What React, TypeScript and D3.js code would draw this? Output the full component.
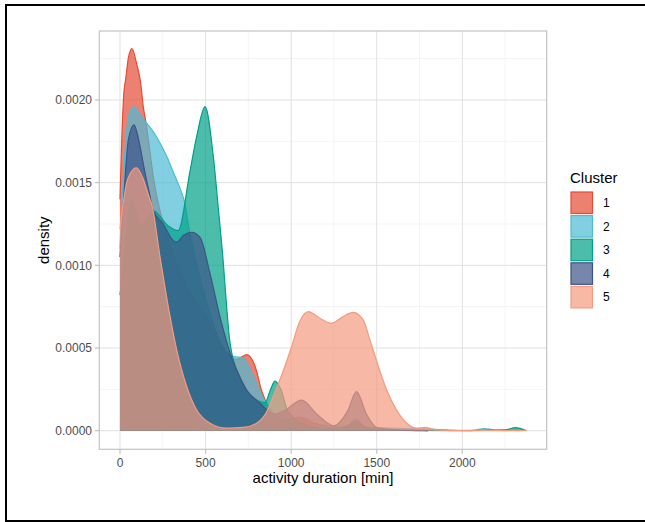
import * as d3 from "d3";

// density curves (x = minutes, y = density)
const cluster1X = [0, 10, 20, 35, 50, 70, 97, 121, 136, 152, 200, 300, 400, 500, 600, 680, 740, 789, 828, 880, 950, 1050, 1150, 1300, 1380, 1450, 1600, 1800];
const cluster1Y = [0.0014, 0.00175, 0.002, 0.00214, 0.00226, 0.00231, 0.00222, 0.0021, 0.00196, 0.00186, 0.0015, 0.0011, 0.00085, 0.0007, 0.0005, 0.00043, 0.00046, 0.00039, 0.00024, 0.00012, 0.00006, 0.00008, 0.00004, 0.00002, 0.00005, 0.00002, 0.00001, 0];

const cluster2X = [0, 15, 30, 50, 82, 110, 156, 200, 234, 273, 321, 360, 380, 400, 450, 500, 560, 620, 660, 720, 770, 835, 900, 1000, 1100, 1400, 1800, 2050, 2130, 2200];
const cluster2Y = [0.0011, 0.00145, 0.0017, 0.0019, 0.00196, 0.00192, 0.00186, 0.0018, 0.00174, 0.00166, 0.00154, 0.00144, 0.00137, 0.00124, 0.001, 0.0008, 0.0006, 0.00048, 0.00045, 0.00044, 0.00035, 0.0002, 0.0001, 0.00005, 0.00003, 0.00002, 0.00001, 0, 0.000012, 0];

const cluster3X = [0, 30, 60, 127, 195, 280, 340, 409, 448, 497, 545, 574, 604, 623, 643, 700, 780, 847, 880, 905, 940, 980, 1100, 1250, 1330, 1382, 1430, 1500, 2000, 2250, 2310, 2375];
const cluster3Y = [0.00082, 0.0011, 0.00139, 0.00124, 0.00133, 0.00124, 0.00121, 0.00157, 0.00178, 0.00196, 0.00166, 0.00135, 0.00101, 0.00075, 0.00053, 0.00032, 0.0002, 0.00017, 0.00025, 0.0003, 0.00025, 0.00012, 0.00003, 0.00001, 0.00003, 0.000065, 0.00002, 0.000005, 0, 0.000005, 0.000018, 0];

const cluster4X = [0, 15, 29, 49, 82, 100, 117, 146, 171, 195, 253, 311, 331, 370, 419, 467, 526, 584, 643, 681, 740, 818, 900, 960, 1061, 1150, 1250, 1330, 1382, 1440, 1500, 1600, 1800];
const cluster4Y = [0.00105, 0.0013, 0.00152, 0.00176, 0.00185, 0.0018, 0.00172, 0.00156, 0.00144, 0.00133, 0.00125, 0.00115, 0.00114, 0.00118, 0.0012, 0.00117, 0.00095, 0.00069, 0.00047, 0.00037, 0.000246, 0.000166, 0.0001, 0.00012, 0.000185, 0.0001, 0.00003, 0.00012, 0.000236, 0.0001, 0.00002, 0.000005, 0];

const cluster5X = [0, 15, 39, 62, 97, 136, 171, 185, 234, 282, 331, 390, 448, 526, 623, 720, 798, 850, 900, 950, 1000, 1050, 1100, 1168, 1236, 1304, 1363, 1421, 1460, 1509, 1558, 1616, 1675, 1733, 1780, 1850, 2000, 2375];
const cluster5Y = [0.00122, 0.00135, 0.0015, 0.00156, 0.00159, 0.00152, 0.00141, 0.00137, 0.00105, 0.00075, 0.00049, 0.000266, 0.000125, 0.000045, 0.000015, 0.00002, 0.000045, 0.0001, 0.00022, 0.00035, 0.0005, 0.00066, 0.00072, 0.00068, 0.00065, 0.00069, 0.000716, 0.00067, 0.00055, 0.00039, 0.000246, 0.000125, 0.000045, 0.000015, 0.00002, 0.000005, 0.000002, 0];

const clusterNames = ["1", "2", "3", "4", "5"];
const clusterColors = ["#E64B35", "#4DBBD5", "#00A087", "#3C5488", "#F39B7F"];
const xTicks = [0, 500, 1000, 1500, 2000];
const xMinor = [250, 750, 1250, 1750, 2250];
const yTicks = [0, 0.0005, 0.001, 0.0015, 0.002];
const yMinor = [0.00025, 0.00075, 0.00125, 0.00175, 0.00225];

const seriesX = [cluster1X, cluster2X, cluster3X, cluster4X, cluster5X];
const seriesY = [cluster1Y, cluster2Y, cluster3Y, cluster4Y, cluster5Y];

const W = 645;
const H = 522;
const panel = { left: 99.3, right: 546.7, top: 31, bottom: 449.3 };
const font = "'Liberation Sans', Arial, sans-serif";

export default function App() {
  const x = d3.scaleLinear().domain([-120.9, 2493]).range([panel.left, panel.right]);
  const y = d3.scaleLinear().domain([-0.0001125, 0.002417]).range([panel.bottom, panel.top]);

  const area = d3
    .area<[number, number]>()
    .x((d) => x(d[0]))
    .y0(y(0))
    .y1((d) => y(d[1]))
    .curve(d3.curveMonotoneX);
  const line = d3
    .line<[number, number]>()
    .x((d) => x(d[0]))
    .y((d) => y(d[1]))
    .curve(d3.curveMonotoneX);

  const yFmt = d3.format(".4f");

  return (
    <svg width={W} height={H} style={{ position: "absolute", left: 0, top: 0 }} fontFamily={font}>
      <rect width={W} height={H} fill="#fff" />
      {/* screenshot frame */}
      <line x1={5} x2={W} y1={5} y2={5} stroke="#000" strokeWidth={2} />
      <line x1={6} x2={6} y1={4} y2={522} stroke="#000" strokeWidth={2} />
      <line x1={5} x2={W} y1={521} y2={521} stroke="#000" strokeWidth={2} />

      {/* grid */}
      {yMinor.map((t) => (
        <line key={"ym" + t} x1={panel.left} x2={panel.right} y1={y(t)} y2={y(t)} stroke="#EDEDED" strokeWidth={0.6} />
      ))}
      {xMinor.map((t) => (
        <line key={"xm" + t} y1={panel.top} y2={panel.bottom} x1={x(t)} x2={x(t)} stroke="#EDEDED" strokeWidth={0.6} />
      ))}
      {yTicks.map((t) => (
        <line key={"yg" + t} x1={panel.left} x2={panel.right} y1={y(t)} y2={y(t)} stroke="#E0E0E0" strokeWidth={1} />
      ))}
      {xTicks.map((t) => (
        <line key={"xg" + t} y1={panel.top} y2={panel.bottom} x1={x(t)} x2={x(t)} stroke="#E0E0E0" strokeWidth={1} />
      ))}

      {/* densities */}
      {seriesX.map((xs, i) => {
        const pts = xs.map((v, j) => [v, seriesY[i][j]] as [number, number]);
        return (
          <g key={"c" + i}>
            <path d={area(pts) || ""} fill={clusterColors[i]} fillOpacity={0.7} />
            <path d={line(pts) || ""} fill="none" stroke={clusterColors[i]} strokeWidth={1.2} />
          </g>
        );
      })}

      {/* panel border */}
      <rect
        x={panel.left}
        y={panel.top}
        width={panel.right - panel.left}
        height={panel.bottom - panel.top}
        fill="none"
        stroke="#C4C4C4"
        strokeWidth={1.2}
      />

      {/* axes */}
      {yTicks.map((t) => (
        <g key={"yt" + t}>
          <line x1={panel.left - 4.5} x2={panel.left} y1={y(t)} y2={y(t)} stroke="#C4C4C4" strokeWidth={1.2} />
          <text x={92} y={y(t)} dy="0.35em" textAnchor="end" fontSize={12} fill="#4D4D4D">
            {yFmt(t)}
          </text>
        </g>
      ))}
      {xTicks.map((t) => (
        <g key={"xt" + t}>
          <line x1={x(t)} x2={x(t)} y1={panel.bottom} y2={panel.bottom + 4.5} stroke="#C4C4C4" strokeWidth={1.2} />
          <text x={x(t)} y={466.5} textAnchor="middle" fontSize={12} fill="#4D4D4D">
            {t}
          </text>
        </g>
      ))}
      <text x={(panel.left + panel.right) / 2} y={483} textAnchor="middle" fontSize={15} fill="#000">
        activity duration [min]
      </text>
      <text
        transform={`translate(49,${(panel.top + panel.bottom) / 2}) rotate(-90)`}
        textAnchor="middle"
        fontSize={15}
        fill="#000"
      >
        density
      </text>

      {/* legend */}
      <text x={570} y={183} fontSize={15} fill="#000">
        Cluster
      </text>
      {clusterNames.map((n, i) => {
        const top = 192 + i * 23.6;
        return (
          <g key={"lg" + n}>
            <rect x={571} y={top} width={21.5} height={21.5} fill={clusterColors[i]} fillOpacity={0.7} stroke={clusterColors[i]} strokeWidth={1.2} />
            <text x={603} y={top + 10.75} dy="0.35em" fontSize={12} fill="#000">
              {n}
            </text>
          </g>
        );
      })}
    </svg>
  );
}
